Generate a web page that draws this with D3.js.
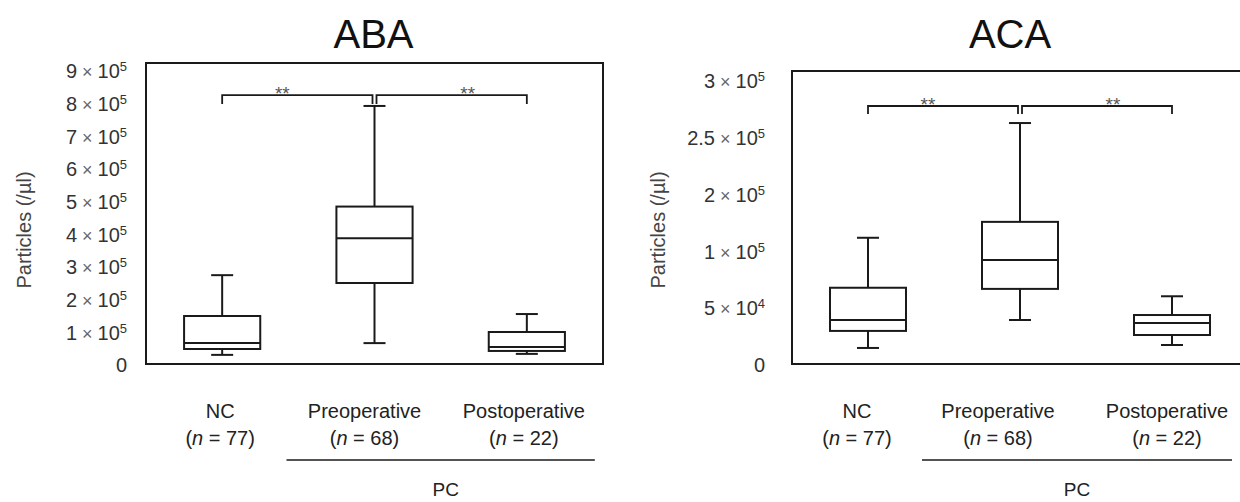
<!DOCTYPE html>
<html>
<head>
<meta charset="utf-8">
<script src="https://cdn.jsdelivr.net/npm/d3@7"></script>
<style>
  html, body { margin: 0; padding: 0; background: #fff; }
  svg { display: block; font-family: "Liberation Sans", Arial, sans-serif; }
</style>
</head>
<body>
<svg id="chart" width="1240" height="502"></svg>
<script>
// Groups shared by both panels
var categories = ['NC', 'Preoperative', 'Postoperative'];
var groupSizes = [77, 68, 22];

// ABA box stats (particles / ul)
var abaMin    = [31000, 67000, 34000];
var abaQ1     = [49000, 251000, 43000];
var abaMedian = [67000, 388000, 55000];
var abaQ3     = [150000, 485000, 101000];
var abaMax    = [275000, 793000, 156000];
var abaTicks  = [0, 100000, 200000, 300000, 400000, 500000, 600000, 700000, 800000, 900000];
var abaBracket = [826000, 799000];   // bar level, foot level

// ACA box stats (particles / ul) -- axis ticks are unevenly valued but evenly spaced
var acaMin    = [15000, 39600, 17600];
var acaQ1     = [30000, 67000, 26400];
var acaMedian = [39600, 92500, 37000];
var acaQ3     = [68000, 152000, 44000];
var acaMax    = [124000, 263000, 60500];
var acaTicks  = [0, 50000, 100000, 200000, 250000, 300000];
var acaBracket = [278000, 271000];

var svg = d3.select('#chart');
var ink = '#1a1a1a';

function stats(mins, q1s, meds, q3s, maxs) {
  return categories.map(function (c, i) {
    return { cat: c, n: groupSizes[i], min: mins[i], q1: q1s[i], med: meds[i], q3: q3s[i], max: maxs[i] };
  });
}

// "9 × 10^5" style tick text
function sciLabel(sel, v) {
  if (v === 0) { sel.text('0'); return; }
  var e = Math.floor(Math.log10(v) + 1e-9);
  var m = +(v / Math.pow(10, e)).toFixed(2);
  sel.append('tspan').text(m);
  sel.append('tspan').attr('font-size', 18).attr('fill', '#666').text(' \u00d7 ');
  sel.append('tspan').text('10');
  sel.append('tspan').attr('font-size', 13).attr('dy', -7).text(e);
}

function drawPanel(p) {
  var g = svg.append('g');
  var x = d3.scaleBand().domain(categories).range([p.left, p.right]).padding(0);
  var y = p.y;
  var data = p.data;
  var boxW = x.bandwidth() * 0.5;
  var capW = 22;
  var cx = function (d) { return x(d.cat) + x.bandwidth() / 2; };
  var y0 = y(0);

  // title
  g.append('text')
    .attr('x', (p.left + p.right) / 2 + p.titleDx)
    .attr('y', 48)
    .attr('text-anchor', 'middle')
    .attr('font-size', 40)
    .attr('fill', '#111')
    .text(p.title);

  // frame
  g.append('rect')
    .attr('x', p.left).attr('y', p.top)
    .attr('width', p.right - p.left).attr('height', y0 - 1 - p.top)
    .attr('fill', 'none').attr('stroke', ink).attr('stroke-width', 2);

  // y tick labels
  g.selectAll('text.tick')
    .data(p.ticks)
    .join('text')
    .attr('class', 'tick')
    .attr('x', p.tickX)
    .attr('y', function (d) { return y(d); })
    .attr('dy', '0.36em')
    .attr('text-anchor', 'end')
    .attr('font-size', 20)
    .attr('fill', '#333')
    .each(function (d) { sciLabel(d3.select(this), d); });

  // y axis title
  g.append('text')
    .attr('transform', 'translate(' + p.titleX + ',230) rotate(-90)')
    .attr('text-anchor', 'middle')
    .attr('dy', '0.35em')
    .attr('font-size', 20)
    .attr('fill', '#444')
    .text('Particles (/\u00b5l)');

  // whiskers
  var box = g.selectAll('g.box').data(data).join('g').attr('class', 'box')
    .attr('stroke', ink).attr('stroke-width', 2).attr('fill', '#fff');
  box.append('line')
    .attr('x1', cx).attr('x2', cx)
    .attr('y1', function (d) { return y(d.min); })
    .attr('y2', function (d) { return y(d.max); });
  box.append('line')
    .attr('x1', function (d) { return cx(d) - capW / 2; })
    .attr('x2', function (d) { return cx(d) + capW / 2; })
    .attr('y1', function (d) { return y(d.min); })
    .attr('y2', function (d) { return y(d.min); });
  box.append('line')
    .attr('x1', function (d) { return cx(d) - capW / 2; })
    .attr('x2', function (d) { return cx(d) + capW / 2; })
    .attr('y1', function (d) { return y(d.max); })
    .attr('y2', function (d) { return y(d.max); });
  box.append('rect')
    .attr('x', function (d) { return cx(d) - boxW / 2; })
    .attr('width', boxW)
    .attr('y', function (d) { return y(d.q3); })
    .attr('height', function (d) { return y(d.q1) - y(d.q3); });
  box.append('line')
    .attr('x1', function (d) { return cx(d) - boxW / 2; })
    .attr('x2', function (d) { return cx(d) + boxW / 2; })
    .attr('y1', function (d) { return y(d.med); })
    .attr('y2', function (d) { return y(d.med); });

  // significance brackets: NC vs Pre, Pre vs Post
  var by = y(p.bracket[0]), fy = y(p.bracket[1]);
  var pairs = [[cx(data[0]), cx(data[1]) - 2, -15], [cx(data[1]) + 2, cx(data[2]), 16]];
  pairs.forEach(function (pr) {
    g.append('path')
      .attr('d', 'M' + pr[0] + ',' + fy + 'V' + by + 'H' + pr[1] + 'V' + fy)
      .attr('fill', 'none').attr('stroke', ink).attr('stroke-width', 1.8);
    g.append('text')
      .attr('x', (pr[0] + pr[1]) / 2 + pr[2])
      .attr('y', by + 5)
      .attr('text-anchor', 'middle')
      .attr('font-size', 19)
      .attr('fill', '#555')
      .text('**');
  });

  // category labels
  var lab = g.selectAll('g.cat').data(data).join('g').attr('class', 'cat');
  lab.append('text')
    .attr('x', function (d, i) { return cx(d) + p.labelDx[i]; })
    .attr('y', 418)
    .attr('text-anchor', 'middle')
    .attr('font-size', 20)
    .attr('fill', '#222')
    .text(function (d) { return d.cat; });
  lab.append('text')
    .attr('x', function (d, i) { return cx(d) + p.labelDx[i]; })
    .attr('y', 445)
    .attr('text-anchor', 'middle')
    .attr('font-size', 20)
    .attr('fill', '#222')
    .each(function (d) {
      var t = d3.select(this);
      t.append('tspan').text('(');
      t.append('tspan').attr('font-style', 'italic').text('n');
      t.append('tspan').text(' = ' + d.n + ')');
    });

  // PC group line
  var pcL = cx(data[1]) - p.pcPad[0], pcR = cx(data[2]) + p.pcPad[1];
  g.append('line')
    .attr('x1', pcL).attr('x2', pcR).attr('y1', 460).attr('y2', 460)
    .attr('stroke', ink).attr('stroke-width', 1.5);
  g.append('text')
    .attr('x', (pcL + pcR) / 2 + p.pcDx)
    .attr('y', 496)
    .attr('text-anchor', 'middle')
    .attr('font-size', 19)
    .attr('fill', '#222')
    .text('PC');
}

// ABA panel
drawPanel({
  title: 'ABA',
  left: 146, right: 603, top: 63,
  y: d3.scaleLinear().domain([0, 900000]).range([365, 71]),
  ticks: abaTicks,
  tickX: 127, titleX: 24, titleDx: -1,
  data: stats(abaMin, abaQ1, abaMedian, abaQ3, abaMax),
  bracket: abaBracket,
  labelDx: [-2, -10, -3],
  pcPad: [88, 68], pcDx: 5
});

// ACA panel (evenly spaced ticks)
drawPanel({
  title: 'ACA',
  left: 792, right: 1248, top: 71,
  y: d3.scaleLinear().domain(acaTicks).range(acaTicks.map(function (d, i) { return 365 - i * 56.8; })),
  ticks: acaTicks,
  tickX: 765, titleX: 658, titleDx: -10,
  data: stats(acaMin, acaQ1, acaMedian, acaQ3, acaMax),
  bracket: acaBracket,
  labelDx: [-11, -22, -5],
  pcPad: [98, 60], pcDx: 0
});
</script>
</body>
</html>
